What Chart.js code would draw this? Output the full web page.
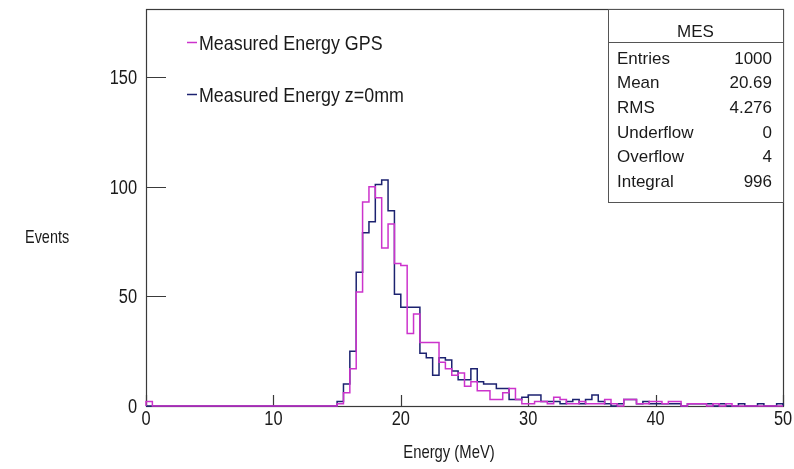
<!DOCTYPE html>
<html>
<head>
<meta charset="utf-8">
<script src="https://cdn.jsdelivr.net/npm/chart.js@4.4.0/dist/chart.umd.min.js"></script>
<style>
  html, body { margin: 0; padding: 0; background: #fff; }
  #wrap { width: 794px; height: 469px; }
</style>
</head>
<body>
<div id="wrap"><canvas id="hist" width="794" height="469"></canvas></div>
<script>
// 100 bins of 0.5 MeV from 0 to 50 MeV
const binWidth = 0.5;

const energyGPS = [
  2, 0, 0, 0, 0, 0, 0, 0, 0, 0,
  0, 0, 0, 0, 0, 0, 0, 0, 0, 0,
  0, 0, 0, 0, 0, 0, 0, 0, 0, 0,
  1, 6, 17, 52, 93, 100, 95, 72, 83, 65,
  64, 33, 42, 29, 29, 29, 20, 17, 14, 15,
  9, 11, 7, 7, 3, 3, 6, 8, 3, 1,
  1, 2, 2, 1, 4, 3, 1, 1, 2, 1,
  1, 1, 3, 1, 0, 3, 3, 1, 1, 2,
  2, 1, 2, 2, 0, 1, 1, 1, 0, 1,
  0, 1, 0, 0, 0, 0, 0, 0, 0, 0
];

const energyZ0 = [
  0, 0, 0, 0, 0, 0, 0, 0, 0, 0,
  0, 0, 0, 0, 0, 0, 0, 0, 0, 0,
  0, 0, 0, 0, 0, 0, 0, 0, 0, 0,
  2, 10, 25, 61, 79, 84, 101, 103, 89, 51,
  45, 45, 45, 24, 22, 14, 22, 21, 16, 12,
  12, 17, 11, 10, 10, 8, 8, 3, 3, 4,
  5, 5, 2, 2, 2, 1, 2, 3, 1, 3,
  5, 2, 1, 0, 1, 3, 3, 1, 2, 1,
  1, 1, 1, 1, 0, 1, 1, 1, 1, 0,
  1, 0, 0, 1, 0, 0, 1, 0, 0, 1
];

const seriesNames = ['Measured Energy GPS', 'Measured Energy z=0mm'];
const seriesColors = ['#cc33cc', '#1c2270'];

const xTickValues = [0, 10, 20, 30, 40, 50];
const yTickValues = [0, 50, 100, 150];

const statsTitle = 'MES';
const statNames = ['Entries', 'Mean', 'RMS', 'Underflow', 'Overflow', 'Integral'];
const statValues = ['1000', '20.69', '4.276', '0', '4', '996'];

// turn bin contents into step outline points (left edge of every bin)
function toSteps(values) {
  const pts = [{ x: 0, y: 0 }];
  values.forEach((v, i) => pts.push({ x: i * binWidth, y: v }));
  pts.push({ x: values.length * binWidth, y: 0 });
  return pts;
}

// condensed text like the ROOT canvas font
function narrowText(ctx, str, x, y, size, squeeze, align) {
  ctx.save();
  ctx.font = size + 'px "Liberation Sans", Arial, sans-serif';
  ctx.textAlign = align || 'left';
  ctx.textBaseline = 'alphabetic';
  ctx.translate(x, y);
  ctx.scale(squeeze, 1);
  ctx.fillText(str, 0, 0);
  ctx.restore();
}

const rootFrame = {
  id: 'rootFrame',
  beforeDatasetsDraw(chart) {
    const { ctx, chartArea: a, scales: { x, y } } = chart;
    ctx.save();
    ctx.strokeStyle = '#3a3a3a';
    ctx.lineWidth = 1.2;
    ctx.strokeRect(a.left + 0.5, a.top + 0.5, a.right - a.left, a.bottom - a.top);
    ctx.beginPath();
    xTickValues.forEach(v => {
      const px = Math.round(x.getPixelForValue(v)) + 0.5;
      ctx.moveTo(px, a.bottom);
      ctx.lineTo(px, a.bottom - 11);
    });
    yTickValues.forEach(v => {
      const py = Math.round(y.getPixelForValue(v)) + 0.5;
      ctx.moveTo(a.left, py);
      ctx.lineTo(a.left + 20, py);
    });
    ctx.stroke();
    ctx.restore();
  },
  afterDraw(chart) {
    const { ctx, chartArea: a, scales: { x, y } } = chart;
    ctx.save();
    ctx.fillStyle = '#1a1a1a';

    // axis labels
    xTickValues.forEach(v => {
      narrowText(ctx, String(v), x.getPixelForValue(v), a.bottom + 19, 20, 0.82, 'center');
    });
    yTickValues.forEach(v => {
      narrowText(ctx, String(v), a.left - 9, y.getPixelForValue(v) + 7, 20, 0.82, 'right');
    });

    // axis titles
    narrowText(ctx, 'Energy (MeV)', 449, 458, 19, 0.78, 'center');
    narrowText(ctx, 'Events', 25, 243, 19, 0.76, 'left');

    // legend entries
    const legendY = [50, 102];
    seriesNames.forEach((name, i) => {
      ctx.strokeStyle = seriesColors[i];
      ctx.lineWidth = 1.5;
      ctx.beginPath();
      ctx.moveTo(187, legendY[i] - 7.5);
      ctx.lineTo(197, legendY[i] - 7.5);
      ctx.stroke();
      ctx.fillStyle = '#1a1a1a';
      narrowText(ctx, name, 199, legendY[i], 21, 0.85, 'left');
    });

    // statistics box
    const bx = 608, by = a.top, bw = a.right - 608, bh = 193;
    ctx.fillStyle = '#fff';
    ctx.fillRect(bx, by, bw, bh);
    ctx.strokeStyle = '#555';
    ctx.lineWidth = 1;
    ctx.strokeRect(bx + 0.5, by + 0.5, bw, bh);
    ctx.beginPath();
    ctx.moveTo(bx, 42.5);
    ctx.lineTo(bx + bw, 42.5);
    ctx.stroke();
    ctx.fillStyle = '#1a1a1a';
    narrowText(ctx, statsTitle, bx + bw / 2, 37, 17, 1, 'center');
    statNames.forEach((n, i) => {
      const ty = 63.5 + i * 24.7;
      narrowText(ctx, n, 617, ty, 17, 1, 'left');
      narrowText(ctx, statValues[i], 772, ty, 17, 1, 'right');
    });
    ctx.restore();
  }
};

new Chart(document.getElementById('hist'), {
  type: 'line',
  data: {
    datasets: [
      {
        label: seriesNames[0],
        data: toSteps(energyGPS),
        borderColor: seriesColors[0],
        borderWidth: 1.5,
        stepped: 'before',
        pointRadius: 0,
        fill: false,
        clip: 4
      },
      {
        label: seriesNames[1],
        data: toSteps(energyZ0),
        borderColor: seriesColors[1],
        borderWidth: 1.5,
        stepped: 'before',
        pointRadius: 0,
        fill: false,
        clip: 4
      }
    ]
  },
  options: {
    responsive: false,
    animation: false,
    layout: { padding: { top: 9, right: 11, left: 0, bottom: 0 } },
    plugins: {
      legend: { display: false },
      tooltip: { enabled: false }
    },
    scales: {
      x: {
        type: 'linear',
        min: 0,
        max: 50,
        grid: { display: false },
        border: { display: false },
        ticks: { display: false },
        afterFit(s) { s.height = 63; }
      },
      y: {
        min: 0,
        max: 181,
        grid: { display: false },
        border: { display: false },
        ticks: { display: false },
        afterFit(s) { s.width = 146; }
      }
    }
  },
  plugins: [rootFrame]
});
</script>
</body>
</html>
